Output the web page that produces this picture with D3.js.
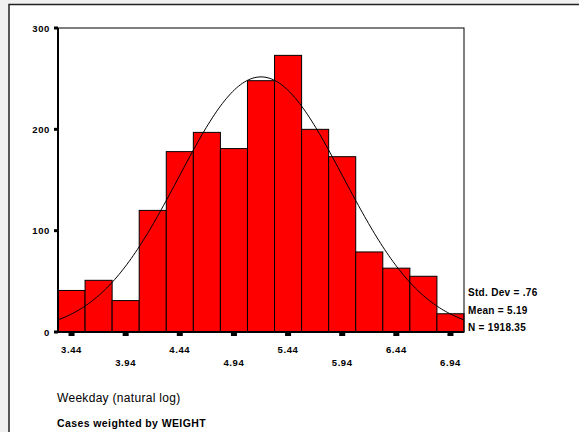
<!DOCTYPE html>
<html>
<head>
<meta charset="utf-8">
<script src="https://cdn.jsdelivr.net/npm/d3@7"></script>
<style>
  html, body { margin: 0; padding: 0; background: #f0f0f0; }
  svg { display: block; }
  text { font-family: "Liberation Sans", Arial, sans-serif; fill: #000; }
</style>
</head>
<body>
<div id="chart"></div>
<script>
// bin centres (natural log of weekday), counts per bin
const binCenters = [3.44, 3.69, 3.94, 4.19, 4.44, 4.69, 4.94, 5.19, 5.44, 5.69, 5.94, 6.19, 6.44, 6.69, 6.94];
const counts = [41, 51, 31, 120, 178, 197, 181, 248, 273, 200, 173, 79, 63, 55, 18];
const tickLabelsTop = ['3.44', '4.44', '5.44', '6.44'];
const tickLabelsBottom = ['3.94', '4.94', '5.94', '6.94'];
const yTicks = [0, 100, 200, 300];
const stdDev = 0.76;
const mean = 5.19;
const nCases = 1918.35;
const binWidth = 0.25;

const width = 579, height = 432;
const svg = d3.select('#chart').append('svg')
    .attr('width', width)
    .attr('height', height);

// outer frame
svg.append('rect')
    .attr('x', 9).attr('y', 4.5)
    .attr('width', 600).attr('height', 500)
    .attr('fill', '#fff')
    .attr('stroke', '#222')
    .attr('stroke-width', 1.5);

const plotLeft = 58, plotRight = 464, plotTop = 28, plotBottom = 332;

const x = d3.scaleLinear()
    .domain([binCenters[0] - binWidth / 2, binCenters[binCenters.length - 1] + binWidth / 2])
    .range([plotLeft, plotRight]);
const y = d3.scaleLinear().domain([0, 300]).range([plotBottom, plotTop]);

// bars
svg.append('g').selectAll('rect')
    .data(counts)
    .join('rect')
    .attr('x', (d, i) => x(binCenters[i] - binWidth / 2))
    .attr('y', d => y(d))
    .attr('width', x(binWidth) - x(0))
    .attr('height', d => y(0) - y(d))
    .attr('fill', '#ff0000')
    .attr('stroke', '#000')
    .attr('stroke-width', 1);

// normal curve from the reported statistics
const curvePts = d3.range(0, 201).map(k => {
    const v = x.domain()[0] + (x.domain()[1] - x.domain()[0]) * k / 200;
    const z = (v - mean) / stdDev;
    return [v, nCases * binWidth / (stdDev * Math.sqrt(2 * Math.PI)) * Math.exp(-z * z / 2)];
});
svg.append('path')
    .datum(curvePts)
    .attr('d', d3.line().x(d => x(d[0])).y(d => y(d[1])))
    .attr('fill', 'none')
    .attr('stroke', '#000')
    .attr('stroke-width', 1);

// plot box
svg.append('rect')
    .attr('x', plotLeft).attr('y', plotTop)
    .attr('width', plotRight - plotLeft).attr('height', plotBottom - plotTop)
    .attr('fill', 'none')
    .attr('stroke', '#000')
    .attr('stroke-width', 1);
svg.append('line')
    .attr('x1', plotLeft).attr('x2', plotLeft).attr('y1', plotTop).attr('y2', plotBottom + 1)
    .attr('stroke', '#000').attr('stroke-width', 2);
svg.append('line')
    .attr('x1', plotLeft - 1).attr('x2', plotRight).attr('y1', plotBottom).attr('y2', plotBottom)
    .attr('stroke', '#000').attr('stroke-width', 2);

// y ticks
const yg = svg.append('g');
yg.selectAll('rect')
    .data(yTicks)
    .join('rect')
    .attr('x', plotLeft - 4).attr('y', d => y(d) - 1.5)
    .attr('width', 4).attr('height', 3)
    .attr('fill', '#000');
yg.selectAll('text')
    .data(yTicks)
    .join('text')
    .attr('x', plotLeft - 8).attr('y', d => y(d) + 3.5)
    .attr('text-anchor', 'end')
    .attr('font-size', 9.5)
    .attr('font-weight', 'bold')
    .attr('letter-spacing', 0.6)
    .text(d => d);

// x ticks
const xTickVals = binCenters.filter((d, i) => i % 2 === 0);
svg.append('g').selectAll('rect')
    .data(xTickVals)
    .join('rect')
    .attr('x', d => x(d) - 3).attr('y', plotBottom + 1)
    .attr('width', 6).attr('height', 3)
    .attr('fill', '#000');
svg.append('g').selectAll('text')
    .data(tickLabelsTop)
    .join('text')
    .attr('x', d => x(+d)).attr('y', plotBottom + 21)
    .attr('text-anchor', 'middle')
    .attr('font-size', 9.5)
    .attr('font-weight', 'bold')
    .attr('letter-spacing', 0.6)
    .text(d => d);
svg.append('g').selectAll('text')
    .data(tickLabelsBottom)
    .join('text')
    .attr('x', d => x(+d)).attr('y', plotBottom + 34)
    .attr('text-anchor', 'middle')
    .attr('font-size', 9.5)
    .attr('font-weight', 'bold')
    .attr('letter-spacing', 0.6)
    .text(d => d);

// stats legend
const stats = ['Std. Dev = .' + Math.round(stdDev * 100), 'Mean = ' + mean.toFixed(2), 'N = ' + nCases.toFixed(2)];
svg.append('g').selectAll('text')
    .data(stats)
    .join('text')
    .attr('x', plotRight + 4)
    .attr('y', (d, i) => 296 + i * 17.5)
    .attr('font-size', 10)
    .attr('font-weight', 'bold')
    .attr('letter-spacing', 0.3)
    .text(d => d);

svg.append('text')
    .attr('x', 57).attr('y', 402)
    .attr('font-size', 12)
    .attr('letter-spacing', 0.3)
    .text('Weekday (natural log)');
svg.append('text')
    .attr('x', 57).attr('y', 427)
    .attr('font-size', 10.5)
    .attr('font-weight', 'bold')
    .attr('letter-spacing', 0.4)
    .text('Cases weighted by WEIGHT');
</script>
</body>
</html>
